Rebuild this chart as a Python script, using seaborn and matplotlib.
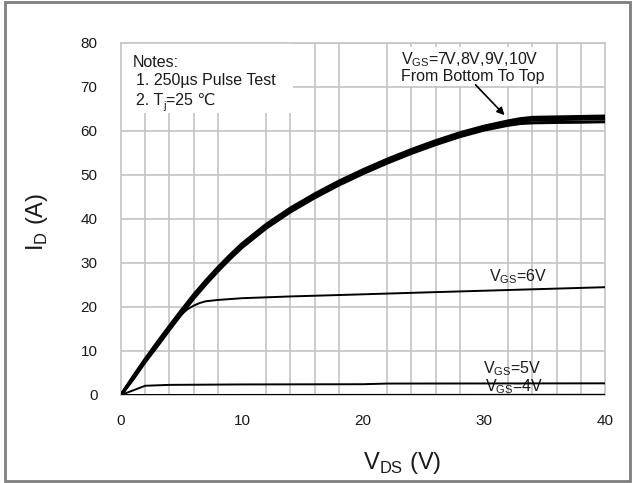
import numpy as np
import pandas as pd
import matplotlib
matplotlib.use("Agg")
import matplotlib.pyplot as plt
from matplotlib.patches import Rectangle
import seaborn as sns

# Output characteristics: drain current vs drain-source voltage
vds_main = [0, 1, 2, 3, 4, 5, 6, 7, 8, 9, 10, 12, 14, 16, 18, 20, 22, 24, 26, 28, 30, 32, 33, 34, 36, 38, 40]
id_10v = [0, 4.2, 8.2, 12.0, 15.7, 19.3, 22.8, 26.0, 29.0, 31.8, 34.4, 38.8, 42.5, 45.7, 48.6, 51.2, 53.6, 55.8, 57.8, 59.6, 61.1, 62.3, 62.8, 63.1, 63.2, 63.3, 63.4]
id_9v = [0, 4.0, 8.0, 11.7, 15.4, 19.0, 22.5, 25.7, 28.7, 31.5, 34.1, 38.5, 42.2, 45.4, 48.3, 50.9, 53.3, 55.5, 57.5, 59.3, 60.8, 62.0, 62.5, 62.8, 62.9, 63.0, 63.1]
id_8v = [0, 3.8, 7.8, 11.4, 15.1, 18.7, 22.2, 25.4, 28.4, 31.2, 33.8, 38.2, 41.9, 45.1, 48.0, 50.6, 53.0, 55.2, 57.2, 59.0, 60.5, 61.7, 62.2, 62.5, 62.6, 62.7, 62.8]
id_7v = [0, 3.6, 7.5, 11.1, 14.8, 18.4, 21.9, 25.1, 28.1, 30.9, 33.5, 37.9, 41.6, 44.8, 47.7, 50.3, 52.7, 54.9, 56.9, 58.7, 60.2, 61.3, 61.7, 61.85, 61.95, 62.0, 62.1]

vds_6v = [0, 1, 2, 3, 4, 5, 5.5, 6, 6.5, 7, 8, 10, 14, 19, 25, 30, 35, 40]
id_6v = [0, 3.8, 7.7, 11.3, 15.0, 18.3, 19.5, 20.3, 20.9, 21.3, 21.6, 22.0, 22.4, 22.8, 23.3, 23.7, 24.1, 24.5]

vds_5v = [0, 2, 4, 10, 20, 22, 40]
id_5v = [0, 2.1, 2.3, 2.4, 2.45, 2.6, 2.65]

vds_4v = [0, 40]
id_4v = [0, 0.05]

x_ticks = [0, 10, 20, 30, 40]
y_ticks = [0, 10, 20, 30, 40, 50, 60, 70, 80]

sns.set_theme(style="white")
plt.rcParams["font.family"] = ["Liberation Sans", "DejaVu Sans"]
plt.rcParams["mathtext.fontset"] = "custom"
plt.rcParams["mathtext.rm"] = "Liberation Sans"

grid_c = "#c4c4c4"
txt_c = "#1a1a1a"

fig = plt.figure(figsize=(6.35, 4.83), dpi=100)
ax = fig.add_axes([121 / 635, 1 - 395 / 483, 484 / 635, 352 / 483])

# thick bundle of the high gate-voltage curves
for ys in (id_7v, id_8v, id_9v, id_10v):
    sns.lineplot(x=vds_main, y=ys, ax=ax, color="black", lw=2.2,
                 solid_joinstyle="round", zorder=3)
for xs, ys in ((vds_6v, id_6v), (vds_5v, id_5v), (vds_4v, id_4v)):
    sns.lineplot(x=xs, y=ys, ax=ax, color="black", lw=1.4, zorder=3)

ax.set_xlim(0, 40)
ax.set_ylim(0, 80)
ax.set_xticks(x_ticks)
ax.set_xticks(np.arange(0, 41, 2), minor=True)
ax.set_yticks(y_ticks)
ax.set_axisbelow(True)
ax.grid(True, which="major", axis="y", color=grid_c, lw=1.2)
ax.grid(True, which="minor", axis="x", color=grid_c, lw=1.2)
ax.tick_params(axis="both", which="both", direction="out", color=grid_c,
               labelcolor=txt_c, labelsize=11, width=1.0)
ax.tick_params(axis="x", which="both", length=4, pad=10)
ax.tick_params(axis="y", which="major", length=5, pad=12)
for s in ax.spines.values():
    s.set_color(grid_c)
    s.set_linewidth(1.2)

ax.set_xlabel("")
ax.set_ylabel("")
fig.text(402 / 635, 1 - 463 / 483, r"V$_\mathregular{DS}$ (V)", fontsize=17,
         ha="center", va="center", color=txt_c)
fig.text(37 / 635, 1 - 222 / 483, r"I$_\mathregular{D}$ (A)", fontsize=17,
         ha="center", va="center", rotation=90, color=txt_c)

# notes block
ax.add_patch(Rectangle((0, 64.2), 14.2, 15.8, facecolor="white",
                       edgecolor="none", zorder=1))
ax.text(1.0, 75.5, "Notes:", fontsize=11.5, ha="left", va="center", color=txt_c, zorder=4)
ax.text(1.25, 71.4, "1. 250µs Pulse Test", fontsize=11.5, ha="left", va="center",
        color=txt_c, zorder=4)
t_head = ax.text(1.25, 65.3, "2. T", fontsize=11.5, ha="left", va="bottom",
                 color=txt_c, zorder=4)
t_sub = ax.annotate("j", xy=(1, 0), xycoords=t_head, xytext=(0, -2.5),
                    textcoords="offset points", fontsize=8, ha="left",
                    va="bottom", color=txt_c, zorder=4)
ax.annotate("=25 ℃", xy=(1, 0), xycoords=(t_sub, t_head), fontsize=11.5,
            ha="left", va="bottom", color=txt_c, zorder=4)

# curve labels
ax.text(23.1, 74.5, "V$_\\mathregular{GS}$=7V,8V,9V,10V\nFrom Bottom To Top",
        fontsize=11.5, ha="left", va="center", color=txt_c, linespacing=0.95,
        zorder=4, bbox=dict(facecolor="white", edgecolor="none", pad=1.5))
ax.annotate("", xy=(31.7, 63.6), xytext=(29.3, 70.5),
            arrowprops=dict(arrowstyle="-|>", color="black", lw=1.2,
                            mutation_scale=11, shrinkA=0, shrinkB=0), zorder=5)
ax.text(30.4, 26.9, r"V$_\mathregular{GS}$=6V", fontsize=11.5, ha="left",
        va="center", color=txt_c, zorder=2)
ax.text(29.9, 5.9, r"V$_\mathregular{GS}$=5V", fontsize=11.5, ha="left",
        va="center", color=txt_c, zorder=2)
ax.text(30.1, 1.8, r"V$_\mathregular{GS}$=4V", fontsize=11.5, ha="left",
        va="center", color=txt_c, zorder=2)

# outer frame
fig.patches.append(Rectangle((5 / 635, 2 / 483), 625 / 635, 479 / 483,
                             transform=fig.transFigure, fill=False,
                             edgecolor="#7f7f7f", lw=2))

fig.savefig("out.png", dpi=100, facecolor="white")
